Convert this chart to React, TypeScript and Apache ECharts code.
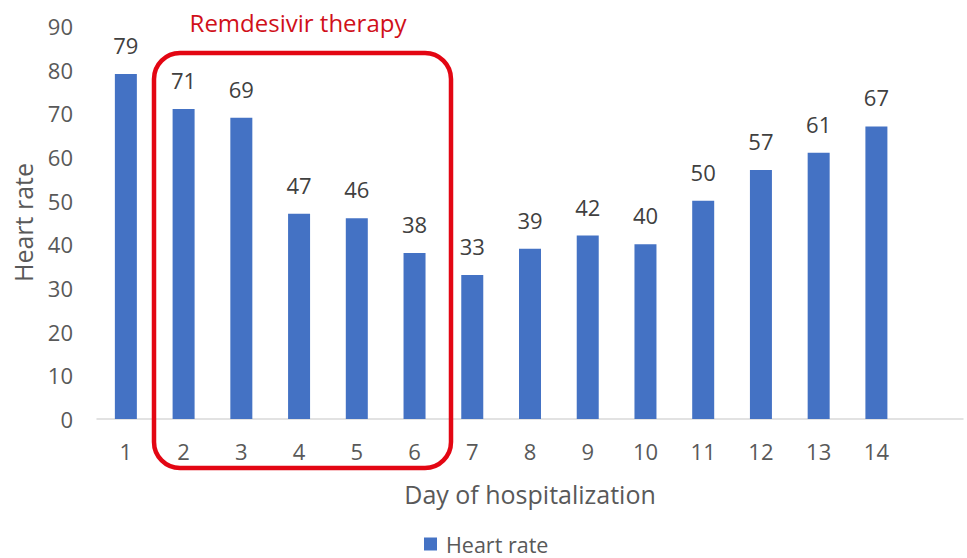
import React, { useEffect, useRef } from "react";
import * as echarts from "echarts";

const categories = ["1", "2", "3", "4", "5", "6", "7", "8", "9", "10", "11", "12", "13", "14", ""];
const heartRate = [79, 71, 69, 47, 46, 38, 33, 39, 42, 40, 50, 57, 61, 67];
const yTicks = { min: 0, max: 90, interval: 10 };

const FONT = "Open Sans";
const GRAY = "#595959";

export default function App() {
  const ref = useRef<HTMLDivElement>(null);
  useEffect(() => {
    document.body.style.margin = "0";
    if (!ref.current) return;
    const chart = echarts.init(ref.current, null, { renderer: "svg" });
    chart.setOption({
      animation: false,
      textStyle: { fontFamily: FONT },
      grid: { left: 97, right: 4, top: 26, bottom: 139 },
      legend: {
        bottom: 3,
        padding: 0,
        left: 424,
        icon: "rect",
        itemWidth: 13,
        itemHeight: 13,
        itemGap: 8,
        textStyle: { fontFamily: FONT, fontSize: 21.5, color: GRAY, padding: [0, 0, 0, 4] },
        data: ["Heart rate"],
      },
      xAxis: {
        type: "category",
        data: categories,
        name: "Day of hospitalization",
        nameLocation: "middle",
        nameGap: 62,
        nameTextStyle: { fontFamily: FONT, fontSize: 25, color: GRAY },
        axisLine: { lineStyle: { color: "#D9D9D9", width: 1.5 } },
        axisTick: { show: false },
        axisLabel: { fontFamily: FONT, fontSize: 22, color: GRAY, margin: 21, interval: 0 },
      },
      yAxis: {
        type: "value",
        min: yTicks.min,
        max: yTicks.max,
        interval: yTicks.interval,
        name: "Heart rate",
        nameLocation: "middle",
        nameGap: 62,
        nameTextStyle: { fontFamily: FONT, fontSize: 25, color: GRAY },
        axisLine: { show: false },
        axisTick: { show: false },
        splitLine: { show: false },
        axisLabel: { fontFamily: FONT, fontSize: 22, color: GRAY, margin: 24 },
      },
      series: [
        {
          name: "Heart rate",
          type: "bar",
          data: heartRate,
          barWidth: 22,
          itemStyle: { color: "#4472C4" },
          label: {
            show: true,
            position: "top",
            distance: 18,
            fontFamily: FONT,
            fontSize: 22,
            color: "#404040",
          },
        },
      ],
      graphic: [
        {
          type: "rect",
          shape: { x: 154, y: 53, width: 297, height: 415, r: 26 },
          style: { fill: "none", stroke: "#E30613", lineWidth: 4.5 },
          z: 10,
        },
        {
          type: "text",
          x: 298,
          y: 22,
          style: {
            text: "Remdesivir therapy",
            fontFamily: FONT,
            fontSize: 24,
            fill: "#D0101A",
            align: "center",
            verticalAlign: "middle",
          },
        },
      ],
    });
    return () => chart.dispose();
  }, []);
  return <div ref={ref} style={{ width: 967, height: 558 }} />;
}
